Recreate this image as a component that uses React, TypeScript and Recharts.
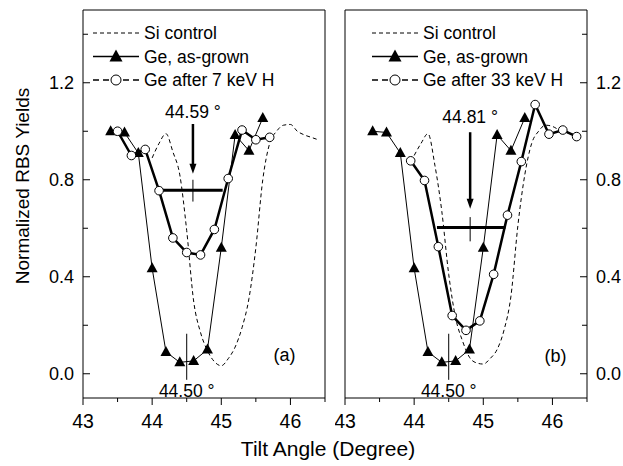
import { Legend, Line, LineChart, ReferenceDot, ReferenceLine, XAxis, YAxis } from 'recharts'

const FONT = '"Liberation Sans", Arial, sans-serif'

const xTicks = [43, 43.5, 44, 44.5, 45, 45.5, 46, 46.5]
const yTicks = [0, 0.2, 0.4, 0.6, 0.8, 1.0, 1.2, 1.4]

// Ge, as-grown (same scan in both panels)
const grownX = [43.4, 43.6, 43.8, 44.0, 44.2, 44.4, 44.6, 44.8, 45.0, 45.2, 45.4, 45.6]
const grownY = [1.0, 0.995, 0.91, 0.435, 0.09, 0.047, 0.053, 0.1, 0.52, 0.985, 0.92, 1.055]

// Ge after 7 keV H
const h7X = [43.5, 43.7, 43.9, 44.1, 44.3, 44.5, 44.7, 44.9, 45.1, 45.3, 45.5, 45.7]
const h7Y = [1.0, 0.9, 0.925, 0.755, 0.56, 0.5, 0.49, 0.595, 0.805, 1.005, 0.965, 0.975]

// Ge after 33 keV H
const h33X = [43.95, 44.15, 44.35, 44.55, 44.75, 44.95, 45.15, 45.35, 45.55, 45.75, 45.95, 46.15, 46.35]
const h33Y = [0.878, 0.797, 0.524, 0.24, 0.179, 0.218, 0.41, 0.654, 0.875, 1.11, 0.988, 1.005, 0.978]

// Si control
const siAX = [44.0, 44.1, 44.2, 44.3, 44.4, 44.5, 44.6, 44.7, 44.8, 44.9, 45.0, 45.1, 45.2, 45.3, 45.4, 45.5, 45.6, 45.7, 45.8, 45.9, 46.0, 46.1, 46.2, 46.3, 46.4]
const siAY = [0.89, 0.95, 0.99, 0.915, 0.82, 0.59, 0.3, 0.17, 0.095, 0.05, 0.033, 0.062, 0.11, 0.19, 0.31, 0.52, 0.8, 0.95, 1.0, 1.025, 1.028, 1.0, 0.985, 0.975, 0.965]
const siBX = [44.0, 44.1, 44.2, 44.3, 44.4, 44.5, 44.6, 44.7, 44.8, 44.9, 45.0, 45.1, 45.2, 45.3, 45.4, 45.5, 45.6, 45.7, 45.8, 45.9, 46.0, 46.1, 46.2, 46.3]
const siBY = [0.9, 0.95, 0.99, 0.86, 0.67, 0.41, 0.23, 0.135, 0.068, 0.045, 0.04, 0.063, 0.1, 0.18, 0.32, 0.61, 0.82, 0.95, 1.0, 1.025, 1.02, 1.005, 0.995, 0.99]

const toPoints = (xs: number[], ys: number[]) => xs.map((x, i) => ({ x, y: ys[i] }))

const XTick = (p: any) => {
  const v = p.payload.value
  const major = Number.isInteger(v)
  return (
    <g>
      <line x1={p.x} y1={p.y} x2={p.x} y2={p.y + (major ? 7 : 4)} stroke='#000' />
      {major && (
        <text x={p.x} y={p.y + 23} textAnchor='middle' dominantBaseline='central' fontSize={19.5} fontFamily={FONT} fill='#000'>
          {v}
        </text>
      )}
    </g>
  )
}

const yTick = (dir: number, showLabel: boolean) => (p: any) => {
  const v = p.payload.value
  const major = Math.round(v * 10) % 4 === 0
  return (
    <g>
      <line x1={p.x} y1={p.y} x2={p.x + dir * (major ? 7 : 5)} y2={p.y} stroke='#000' />
      {showLabel && major && (
        <text
          x={p.x - dir * 9}
          y={p.y}
          textAnchor={dir > 0 ? 'end' : 'start'}
          dominantBaseline='central'
          fontSize={18}
          fontFamily={FONT}
          fill='#000'
        >
          {v.toFixed(1)}
        </text>
      )}
    </g>
  )
}

const Tri = (p: any) => {
  const { cx, cy } = p
  if (cx == null || cy == null) return <g key={`t-${p.index}`} />
  return <polygon key={`t-${p.index}`} points={`${cx},${cy - 6} ${cx - 5.5},${cy + 4} ${cx + 5.5},${cy + 4}`} fill='#000' />
}

const Arrow = (p: any) => {
  const top = Math.min(p.y1, p.y2)
  const tip = Math.max(p.y1, p.y2)
  const x = p.x1
  return (
    <g>
      <line x1={x} y1={top} x2={x} y2={tip - 8} stroke='#000' strokeWidth={2.5} />
      <polygon points={`${x - 3.5},${tip - 10} ${x + 3.5},${tip - 10} ${x},${tip}`} fill='#000' />
    </g>
  )
}

const label = (text: string, size: number) => (p: any) => (
  <text x={p.cx} y={p.cy} textAnchor='middle' dominantBaseline='central' fontSize={size} fontFamily={FONT} fill='#000'>
    {text}
  </text>
)

function PanelLegend({ hLabel }: { hLabel: string }) {
  const rows = [8, 31.5, 55]
  const len = 46
  const txt = { x: len + 5, dominantBaseline: 'central' as const, fontSize: 17.5, fontFamily: FONT, fill: '#000' }
  return (
    <svg width={230} height={66} style={{ display: 'block', overflow: 'visible' }}>
      <line x1={0} x2={len} y1={rows[0]} y2={rows[0]} stroke='#000' strokeDasharray='4 3' />
      <text y={rows[0]} {...txt}>Si control</text>
      <line x1={0} x2={len} y1={rows[1]} y2={rows[1]} stroke='#000' strokeWidth={1.5} />
      <polygon points={`${len / 2},${rows[1] - 7} ${len / 2 - 6.5},${rows[1] + 5} ${len / 2 + 6.5},${rows[1] + 5}`} fill='#000' />
      <text y={rows[1]} {...txt}>Ge, as-grown</text>
      <line x1={0} x2={len} y1={rows[2]} y2={rows[2]} stroke='#000' strokeWidth={1.3} strokeDasharray='6 4' />
      <circle cx={len / 2} cy={rows[2]} r={5} fill='#fff' stroke='#000' />
      <text y={rows[2]} {...txt}>{hLabel}</text>
    </svg>
  )
}

interface PanelProps {
  side: 'left' | 'right'
  tag: string
  hLabel: string
  hData: { x: number; y: number }[]
  siData: { x: number; y: number }[]
  peak: number
  arrow: [number, number]
  cross: [number, number]
  fwhm: [number, number, number]
  peakLabelY: number
  tagPos: [number, number]
  legendLeft: number
}

function Panel(props: PanelProps) {
  const { side, tag, hLabel, hData, siData, peak, arrow, cross, fwhm, peakLabelY, tagPos, legendLeft } = props
  const left = side === 'left'
  const width = left ? 335 : 288
  // every axis is 1px thick, so margins are one pixel short of the frame position
  const margin = left ? { top: 9, right: 9, bottom: 67, left: 82 } : { top: 9, right: 35, bottom: 67, left: 9 }
  const grown = toPoints(grownX, grownY)
  return (
    <LineChart width={width} height={466} margin={margin}>
      <XAxis
        type='number'
        dataKey='x'
        domain={[43, 46.5]}
        ticks={xTicks}
        interval={0}
        height={1}
        tickSize={0}
        tickMargin={0}
        tickLine={false}
        tick={XTick}
        axisLine={{ stroke: '#000' }}
        allowDataOverflow
      />
      <XAxis
        xAxisId='top'
        orientation='top'
        type='number'
        domain={[43, 46.5]}
        height={1}
        tick={false}
        tickLine={false}
        axisLine={{ stroke: '#000' }}
      />
      <YAxis
        type='number'
        orientation={left ? 'left' : 'right'}
        domain={[-0.1, 1.5]}
        ticks={yTicks}
        interval={0}
        width={1}
        tickSize={0}
        tickMargin={0}
        tickLine={false}
        tick={yTick(left ? 1 : -1, true)}
        axisLine={{ stroke: '#000' }}
        allowDataOverflow
      />
      <YAxis
        yAxisId='mirror'
        type='number'
        orientation={left ? 'right' : 'left'}
        domain={[-0.1, 1.5]}
        ticks={yTicks}
        interval={0}
        width={1}
        tickSize={0}
        tickMargin={0}
        tickLine={false}
        tick={yTick(left ? -1 : 1, false)}
        axisLine={{ stroke: '#000' }}
      />
      <Legend
        layout='horizontal'
        verticalAlign='middle'
        align='center'
        wrapperStyle={{ left: legendLeft, top: 25, width: 240, height: 70 }}
        content={() => <PanelLegend hLabel={hLabel} />}
      />
      <Line
        data={siData}
        dataKey='y'
        type='monotone'
        stroke='#000'
        strokeWidth={1}
        strokeDasharray='4 3'
        dot={false}
        activeDot={false}
        isAnimationActive={false}
      />
      <Line data={grown} dataKey='y' type='linear' stroke='#000' strokeWidth={1} dot={Tri} activeDot={false} isAnimationActive={false} />
      <Line
        data={hData}
        dataKey='y'
        type='linear'
        stroke='#000'
        strokeWidth={2.5}
        dot={{ r: 4.3, fill: '#fff', stroke: '#000', strokeWidth: 1 }}
        activeDot={false}
        isAnimationActive={false}
      />
      <ReferenceLine segment={[{ x: peak, y: arrow[0] }, { x: peak, y: arrow[1] }]} shape={Arrow} />
      <ReferenceLine segment={[{ x: peak, y: cross[0] }, { x: peak, y: cross[1] }]} stroke='#000' strokeWidth={1} />
      <ReferenceLine segment={[{ x: fwhm[0], y: fwhm[2] }, { x: fwhm[1], y: fwhm[2] }]} stroke='#000' strokeWidth={3} />
      <ReferenceLine segment={[{ x: 44.5, y: 0.165 }, { x: 44.5, y: -0.025 }]} stroke='#000' strokeWidth={1} />
      <ReferenceDot x={peak} y={peakLabelY} shape={label(`${peak.toFixed(2)} °`, 17.5)} />
      <ReferenceDot x={44.5} y={-0.071} shape={label('44.50 °', 17.5)} />
      <ReferenceDot x={tagPos[0]} y={tagPos[1]} shape={label(tag, 18)} />
    </LineChart>
  )
}

export default function App() {
  return (
    <div style={{ position: 'absolute', left: 0, top: 0, width: 623, height: 466, background: '#fff', fontFamily: FONT }}>
      <div style={{ position: 'absolute', left: 0, top: 0 }}>
        <Panel
          side='left'
          tag='(a)'
          hLabel='Ge after 7 keV H'
          hData={toPoints(h7X, h7Y)}
          siData={toPoints(siAX, siAY)}
          peak={44.59}
          arrow={[1.03, 0.825]}
          cross={[0.8, 0.71]}
          fwhm={[44.1, 45.02, 0.757]}
          peakLabelY={1.078}
          tagPos={[45.915, 0.079]}
          legendLeft={93}
        />
      </div>
      <div style={{ position: 'absolute', left: 335, top: 0 }}>
        <Panel
          side='right'
          tag='(b)'
          hLabel='Ge after 33 keV H'
          hData={toPoints(h33X, h33Y)}
          siData={toPoints(siBX, siBY)}
          peak={44.81}
          arrow={[0.996, 0.68]}
          cross={[0.646, 0.546]}
          fwhm={[44.33, 45.32, 0.603]}
          peakLabelY={1.058}
          tagPos={[46.045, 0.075]}
          legendLeft={37}
        />
      </div>
      <svg width={623} height={466} style={{ position: 'absolute', left: 0, top: 0, pointerEvents: 'none' }}>
        <text x={328} y={448} textAnchor='middle' dominantBaseline='central' fontSize={21} fontFamily={FONT} fill='#000'>
          Tilt Angle (Degree)
        </text>
        <text
          transform='translate(22,186) rotate(-90)'
          textAnchor='middle'
          dominantBaseline='central'
          fontSize={19}
          fontFamily={FONT}
          fill='#000'
        >
          Normalized RBS Yields
        </text>
      </svg>
    </div>
  )
}
